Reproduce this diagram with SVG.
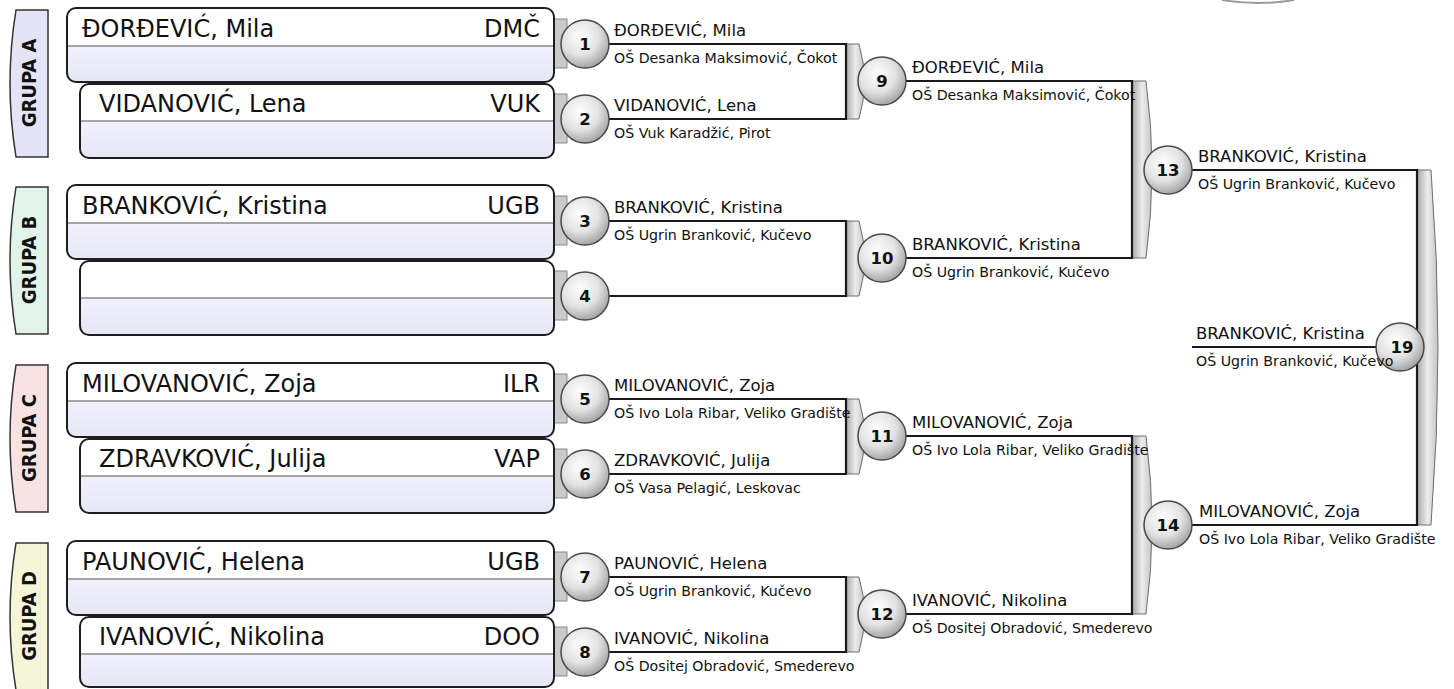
<svg xmlns="http://www.w3.org/2000/svg" width="1454" height="689" viewBox="0 0 1454 689">
<defs>
<radialGradient id="cg" cx="0.4" cy="0.35" r="0.7">
<stop offset="0" stop-color="#ffffff"/>
<stop offset="0.55" stop-color="#e2e2e2"/>
<stop offset="1" stop-color="#9c9c9c"/>
</radialGradient>
<linearGradient id="bg" x1="0" y1="0" x2="1" y2="0">
<stop offset="0" stop-color="#a8a8a8"/>
<stop offset="0.5" stop-color="#ececec"/>
<stop offset="1" stop-color="#c4c4c4"/>
</linearGradient>
<linearGradient id="lg" x1="0" y1="0" x2="0" y2="1">
<stop offset="0" stop-color="#f1f0fb"/>
<stop offset="1" stop-color="#e7e6f6"/>
</linearGradient>
</defs>
<style>
text{font-family:"DejaVu Sans","Liberation Sans",sans-serif;fill:#111}
.bn{font-size:24px}
.gl{font-family:"DejaVu Sans Condensed","DejaVu Sans",sans-serif;font-size:20px;font-weight:bold;text-anchor:middle}
.wn{font-size:16.5px}
.sc{font-size:14.2px}
.num{font-size:16.5px;font-weight:bold;text-anchor:middle}
.code{text-anchor:end}
.tab{stroke:#333;stroke-width:1.5}
.box{fill:none;stroke:#1e1e1e;stroke-width:2}
.top{fill:#ffffff}
.low{fill:url(#lg)}
.div{stroke:#8a8a8a;stroke-width:1.5}
.ln{fill:none;stroke:#1a1a1a;stroke-width:2.2}
.br{fill:url(#bg);stroke:#6e6e6e;stroke-width:1}
.ct{fill:#cacaca;stroke:#8a8a8a;stroke-width:1}
.mc{fill:url(#cg);stroke:#4a4a4a;stroke-width:1.5}
</style>

<path d="M1222,0 Q1258,6 1294,0" fill="none" stroke="#9a9a9a" stroke-width="2"/>

<!-- group tabs -->
<g id="grupaA"><path class="tab" fill="#e4e4f6" d="M16,10 H48 V157 H16 Q4,83.5 16,10 Z"/><text class="gl" transform="translate(36,83) rotate(-90)">GRUPA A</text></g>
<g id="grupaB"><path class="tab" fill="#e2f3ea" d="M16,187 H48 V334 H16 Q4,260.5 16,187 Z"/><text class="gl" transform="translate(36,260) rotate(-90)">GRUPA B</text></g>
<g id="grupaC"><path class="tab" fill="#f8e2e2" d="M16,365 H48 V512 H16 Q4,438.5 16,365 Z"/><text class="gl" transform="translate(36,438) rotate(-90)">GRUPA C</text></g>
<g id="grupaD"><path class="tab" fill="#f5f5d8" d="M16,543 H48 V690 H16 Q4,616.5 16,543 Z"/><text class="gl" transform="translate(36,616) rotate(-90)">GRUPA D</text></g>

<!-- connectors -->
<g id="connectors">
<rect class="ct" x="554" y="19" width="13" height="49"/>
<rect class="ct" x="554" y="94" width="13" height="49"/>
<rect class="ct" x="554" y="196" width="13" height="49"/>
<rect class="ct" x="554" y="271" width="13" height="49"/>
<rect class="ct" x="554" y="374" width="13" height="49"/>
<rect class="ct" x="554" y="449" width="13" height="49"/>
<rect class="ct" x="554" y="552" width="13" height="49"/>
<rect class="ct" x="554" y="627" width="13" height="49"/>

<path class="br" d="M846,44 H859 Q870,81.5 859,119 H846 Z"/>
<path class="br" d="M846,221 H859 Q870,258.5 859,296 H846 Z"/>
<path class="br" d="M846,399 H859 Q870,436.5 859,474 H846 Z"/>
<path class="br" d="M846,577 H859 Q870,614.5 859,652 H846 Z"/>
<path class="br" d="M1132,81 H1146 Q1158,169.5 1146,258 H1132 Z"/>
<path class="br" d="M1132,436 H1146 Q1158,525 1146,614 H1132 Z"/>
<path class="br" d="M1417,170 H1431 Q1445,347.5 1431,525 H1417 Z"/>

<path class="ln" d="M608,44 H846 V119 H608"/>
<path class="ln" d="M608,221 H846 V296 H608"/>
<path class="ln" d="M608,399 H846 V474 H608"/>
<path class="ln" d="M608,577 H846 V652 H608"/>
<path class="ln" d="M906,81 H1132 V258 H906"/>
<path class="ln" d="M906,436 H1132 V614 H906"/>
<path class="ln" d="M1192,170 H1417 V525 H1192"/>
<path class="ln" d="M1192,347 H1378"/>
</g>

<!-- player boxes -->
<g id="box1"><path class="low" d="M67,46 H554 V73 Q554,82 545,82 H76 Q67,82 67,73 Z"/><path class="top" d="M76,8 H545 Q554,8 554,17 V46 H67 V17 Q67,8 76,8 Z"/><line class="div" x1="67" y1="46" x2="554" y2="46"/><rect class="box" x="67" y="8" width="487" height="74" rx="9"/><text class="bn" x="82" y="37">ĐORĐEVIĆ, Mila</text><text class="bn code" x="540" y="37">DMČ</text></g>
<g id="box2"><path class="low" d="M80,121 H554 V149 Q554,158 545,158 H89 Q80,158 80,149 Z"/><path class="top" d="M89,84 H545 Q554,84 554,93 V121 H80 V93 Q80,84 89,84 Z"/><line class="div" x1="80" y1="121" x2="554" y2="121"/><rect class="box" x="80" y="84" width="474" height="74" rx="9"/><text class="bn" x="99" y="112">VIDANOVIĆ, Lena</text><text class="bn code" x="540" y="112">VUK</text></g>

<g id="box3"><path class="low" d="M67,223 H554 V250 Q554,259 545,259 H76 Q67,259 67,250 Z"/><path class="top" d="M76,185 H545 Q554,185 554,194 V223 H67 V194 Q67,185 76,185 Z"/><line class="div" x1="67" y1="223" x2="554" y2="223"/><rect class="box" x="67" y="185" width="487" height="74" rx="9"/><text class="bn" x="82" y="214">BRANKOVIĆ, Kristina</text><text class="bn code" x="540" y="214">UGB</text></g>
<g id="box4"><path class="low" d="M80,298 H554 V326 Q554,335 545,335 H89 Q80,335 80,326 Z"/><path class="top" d="M89,261 H545 Q554,261 554,270 V298 H80 V270 Q80,261 89,261 Z"/><line class="div" x1="80" y1="298" x2="554" y2="298"/><rect class="box" x="80" y="261" width="474" height="74" rx="9"/></g>

<g id="box5"><path class="low" d="M67,401 H554 V428 Q554,437 545,437 H76 Q67,437 67,428 Z"/><path class="top" d="M76,363 H545 Q554,363 554,372 V401 H67 V372 Q67,363 76,363 Z"/><line class="div" x1="67" y1="401" x2="554" y2="401"/><rect class="box" x="67" y="363" width="487" height="74" rx="9"/><text class="bn" x="82" y="392">MILOVANOVIĆ, Zoja</text><text class="bn code" x="540" y="392">ILR</text></g>
<g id="box6"><path class="low" d="M80,476 H554 V504 Q554,513 545,513 H89 Q80,513 80,504 Z"/><path class="top" d="M89,439 H545 Q554,439 554,448 V476 H80 V448 Q80,439 89,439 Z"/><line class="div" x1="80" y1="476" x2="554" y2="476"/><rect class="box" x="80" y="439" width="474" height="74" rx="9"/><text class="bn" x="99" y="467">ZDRAVKOVIĆ, Julija</text><text class="bn code" x="540" y="467">VAP</text></g>

<g id="box7"><path class="low" d="M67,579 H554 V606 Q554,615 545,615 H76 Q67,615 67,606 Z"/><path class="top" d="M76,541 H545 Q554,541 554,550 V579 H67 V550 Q67,541 76,541 Z"/><line class="div" x1="67" y1="579" x2="554" y2="579"/><rect class="box" x="67" y="541" width="487" height="74" rx="9"/><text class="bn" x="82" y="570">PAUNOVIĆ, Helena</text><text class="bn code" x="540" y="570">UGB</text></g>
<g id="box8"><path class="low" d="M80,654 H554 V678 Q554,687 545,687 H89 Q80,687 80,678 Z"/><path class="top" d="M89,617 H545 Q554,617 554,626 V654 H80 V626 Q80,617 89,617 Z"/><line class="div" x1="80" y1="654" x2="554" y2="654"/><rect class="box" x="80" y="617" width="474" height="70" rx="9"/><text class="bn" x="99" y="645">IVANOVIĆ, Nikolina</text><text class="bn code" x="540" y="645">DOO</text></g>

<!-- matches -->
<g id="m1"><circle class="mc" cx="585" cy="44" r="24"/><text class="num" x="585" y="50">1</text><text class="wn" x="614" y="36">ĐORĐEVIĆ, Mila</text><text class="sc" x="614" y="63">OŠ Desanka Maksimović, Čokot</text></g>
<g id="m2"><circle class="mc" cx="585" cy="119" r="24"/><text class="num" x="585" y="125">2</text><text class="wn" x="614" y="111">VIDANOVIĆ, Lena</text><text class="sc" x="614" y="138">OŠ Vuk Karadžić, Pirot</text></g>
<g id="m3"><circle class="mc" cx="585" cy="221" r="24"/><text class="num" x="585" y="227">3</text><text class="wn" x="614" y="213">BRANKOVIĆ, Kristina</text><text class="sc" x="614" y="240">OŠ Ugrin Branković, Kučevo</text></g>
<g id="m4"><circle class="mc" cx="585" cy="296" r="24"/><text class="num" x="585" y="302">4</text></g>
<g id="m5"><circle class="mc" cx="585" cy="399" r="24"/><text class="num" x="585" y="405">5</text><text class="wn" x="614" y="391">MILOVANOVIĆ, Zoja</text><text class="sc" x="614" y="418">OŠ Ivo Lola Ribar, Veliko Gradište</text></g>
<g id="m6"><circle class="mc" cx="585" cy="474" r="24"/><text class="num" x="585" y="480">6</text><text class="wn" x="614" y="466">ZDRAVKOVIĆ, Julija</text><text class="sc" x="614" y="493">OŠ Vasa Pelagić, Leskovac</text></g>
<g id="m7"><circle class="mc" cx="585" cy="577" r="24"/><text class="num" x="585" y="583">7</text><text class="wn" x="614" y="569">PAUNOVIĆ, Helena</text><text class="sc" x="614" y="596">OŠ Ugrin Branković, Kučevo</text></g>
<g id="m8"><circle class="mc" cx="585" cy="652" r="24"/><text class="num" x="585" y="658">8</text><text class="wn" x="614" y="644">IVANOVIĆ, Nikolina</text><text class="sc" x="614" y="671">OŠ Dositej Obradović, Smederevo</text></g>

<g id="m9"><circle class="mc" cx="882" cy="81" r="24"/><text class="num" x="882" y="87">9</text><text class="wn" x="912" y="73">ĐORĐEVIĆ, Mila</text><text class="sc" x="912" y="100">OŠ Desanka Maksimović, Čokot</text></g>
<g id="m10"><circle class="mc" cx="882" cy="258" r="24"/><text class="num" x="882" y="264">10</text><text class="wn" x="912" y="250">BRANKOVIĆ, Kristina</text><text class="sc" x="912" y="277">OŠ Ugrin Branković, Kučevo</text></g>
<g id="m11"><circle class="mc" cx="882" cy="436" r="24"/><text class="num" x="882" y="442">11</text><text class="wn" x="912" y="428">MILOVANOVIĆ, Zoja</text><text class="sc" x="912" y="455">OŠ Ivo Lola Ribar, Veliko Gradište</text></g>
<g id="m12"><circle class="mc" cx="882" cy="614" r="24"/><text class="num" x="882" y="620">12</text><text class="wn" x="912" y="606">IVANOVIĆ, Nikolina</text><text class="sc" x="912" y="633">OŠ Dositej Obradović, Smederevo</text></g>

<g id="m13"><circle class="mc" cx="1168" cy="170" r="24"/><text class="num" x="1168" y="176">13</text><text class="wn" x="1198" y="162">BRANKOVIĆ, Kristina</text><text class="sc" x="1198" y="189">OŠ Ugrin Branković, Kučevo</text></g>
<g id="m14"><circle class="mc" cx="1168" cy="525" r="24"/><text class="num" x="1168" y="531">14</text><text class="wn" x="1199" y="517">MILOVANOVIĆ, Zoja</text><text class="sc" x="1199" y="544">OŠ Ivo Lola Ribar, Veliko Gradište</text></g>

<g id="m19"><circle class="mc" cx="1400" cy="347" r="24"/><text class="num" x="1402" y="353">19</text><text class="wn" x="1196" y="339">BRANKOVIĆ, Kristina</text><text class="sc" x="1196" y="366">OŠ Ugrin Branković, Kučevo</text></g>
</svg>
